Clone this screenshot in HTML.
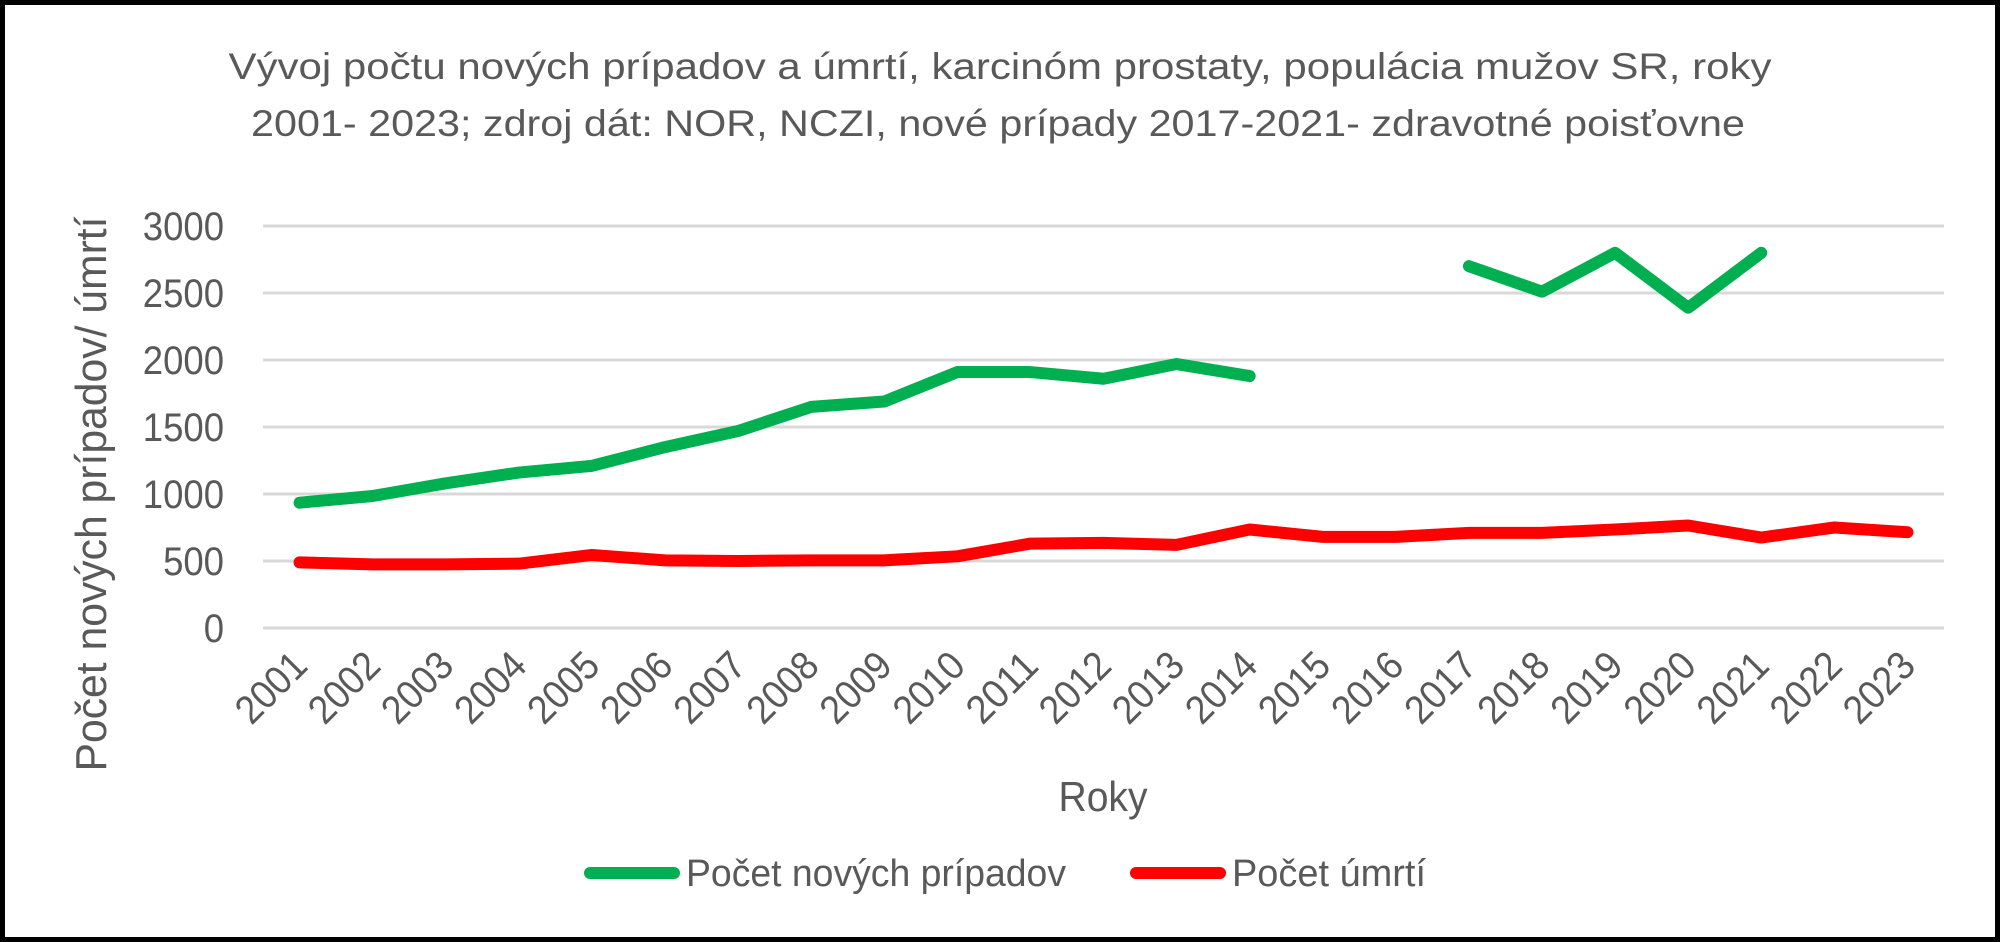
<!DOCTYPE html>
<html><head><meta charset="utf-8"><style>
html,body{margin:0;padding:0;background:#fff;}
svg{display:block;font-family:"Liberation Sans",sans-serif;}
</style></head><body>
<svg id="chart" width="2000" height="942" viewBox="0 0 2000 942">
<rect x="2.5" y="2.5" width="1995" height="937" fill="#fff" stroke="#000" stroke-width="5"/>
<text x="1000" y="79" text-anchor="middle" font-size="37" fill="#595959" textLength="1543" lengthAdjust="spacingAndGlyphs">Vývoj počtu nových prípadov a úmrtí, karcinóm prostaty, populácia mužov SR, roky</text>
<text x="998" y="136" text-anchor="middle" font-size="37" fill="#595959" textLength="1494" lengthAdjust="spacingAndGlyphs">2001- 2023; zdroj dát: NOR, NCZI, nové prípady 2017-2021- zdravotné poisťovne</text>
<g id="grid"></g><g id="yt"></g><g id="xt"></g><g id="lines"></g>
<text transform="translate(106,494) rotate(-90)" text-anchor="middle" font-size="44" fill="#595959" textLength="555" lengthAdjust="spacingAndGlyphs">Počet nových prípadov/ úmrtí</text>
<text x="1103" y="811" text-anchor="middle" font-size="42" fill="#595959" textLength="89" lengthAdjust="spacingAndGlyphs">Roky</text>
<g>
<line x1="590" y1="873" x2="674" y2="873" stroke="#00b050" stroke-width="12" stroke-linecap="round"/>
<text x="686" y="886" font-size="38" fill="#595959" textLength="380" lengthAdjust="spacingAndGlyphs">Počet nových prípadov</text>
<line x1="1136" y1="873" x2="1220" y2="873" stroke="#ff0000" stroke-width="12" stroke-linecap="round"/>
<text x="1232" y="886" font-size="38" fill="#595959" textLength="194" lengthAdjust="spacingAndGlyphs">Počet úmrtí</text>
</g>
</svg>
<script>
const categories=["2001","2002","2003","2004","2005","2006","2007","2008","2009","2010","2011","2012","2013","2014","2015","2016","2017","2018","2019","2020","2021","2022","2023"];
const newCases=[935,985,1080,1160,1210,1350,1470,1650,1690,1910,1910,1860,1970,1880,null,null,2700,2510,2800,2390,2800,null,null];
const deaths=[490,475,475,480,545,505,500,505,505,535,630,635,620,735,680,680,710,710,735,765,675,750,715];
const yTicks=[0,500,1000,1500,2000,2500,3000];
const NS="http://www.w3.org/2000/svg";
const L=263,R=1944,T=226,B=628,YMAX=3000;
const step=(R-L)/categories.length;
const xs=i=>L+step*(i+0.5);
const ys=v=>B-(v/YMAX)*(B-T);
function mk(tag,attrs,parent){const e=document.createElementNS(NS,tag);for(const k in attrs)e.setAttribute(k,attrs[k]);parent.appendChild(e);return e;}
const grid=document.getElementById('grid'),yt=document.getElementById('yt'),xt=document.getElementById('xt'),lines=document.getElementById('lines');
yTicks.forEach(v=>{
 const g=mk('line',{x1:L,x2:R,y1:ys(v),y2:ys(v),stroke:'#d9d9d9','stroke-width':3},grid);
 
 
 const s=String(v);
 const t=mk('text',{x:224,y:ys(v)+14,'text-anchor':'end','font-size':40,fill:'#595959',textLength:s.length*20.3,lengthAdjust:'spacingAndGlyphs'},yt);
 t.textContent=v;
 
 
});
categories.forEach((c,i)=>{
 const x=xs(i)+10;
 const t=mk('text',{x:x,y:668,'text-anchor':'end','font-size':40,fill:'#595959',textLength:82,lengthAdjust:'spacingAndGlyphs',transform:`rotate(-45 ${x} 668)`},xt);
 t.textContent=c;
 
 
});
function drawSeries(vals,color,name){
 let segs=[],cur=[];
 vals.forEach((v,i)=>{if(v==null){if(cur.length)segs.push(cur);cur=[];}else cur.push(xs(i)+','+ys(v));});
 if(cur.length)segs.push(cur);
 segs.forEach((s,k)=>{
  const p=mk('polyline',{points:s.join(' '),fill:'none',stroke:color,'stroke-width':12,'stroke-linejoin':'round','stroke-linecap':'round'},lines);
  
  
 });
}
drawSeries(deaths,'#ff0000','deaths');
drawSeries(newCases,'#00b050','new-cases');
</script>
</body></html>
